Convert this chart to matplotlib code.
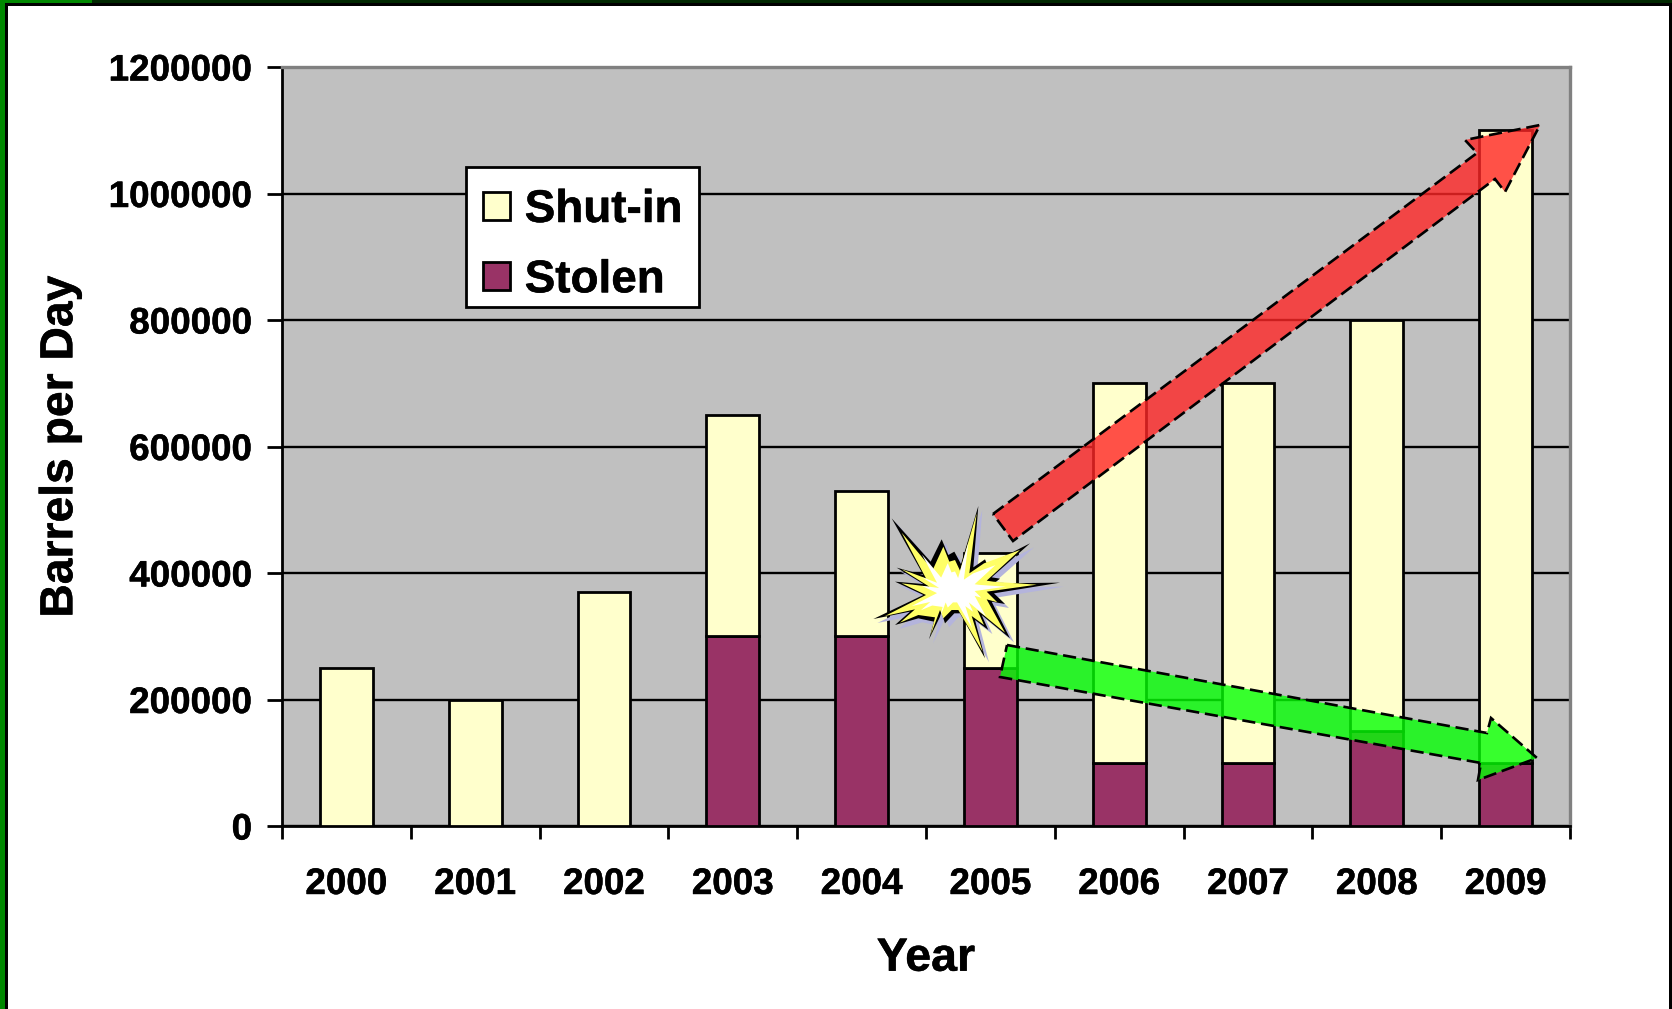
import matplotlib
matplotlib.use('Agg')
import matplotlib.pyplot as plt
import matplotlib.patheffects as pe
from matplotlib.patches import Polygon, Rectangle
from matplotlib.transforms import Affine2D
import numpy as np

W, H = 1672, 1009

years = ['2000', '2001', '2002', '2003', '2004', '2005', '2006', '2007', '2008', '2009']
stolen = [0, 0, 0, 300000, 300000, 250000, 100000, 100000, 150000, 100000]
totals = [250000, 200000, 370000, 650000, 530000, 432000, 700000, 700000, 800000, 1100000]
shut_in = [t - s for t, s in zip(totals, stolen)]
y_ticks = [0, 200000, 400000, 600000, 800000, 1000000, 1200000]

# overlay shapes, traced in image pixels
red_arrow = [(993, 514), (1477, 153), (1465, 140), (1540, 125), (1505, 192), (1495, 179), (1013, 541)]
green_arrow = [(1007, 645), (1487, 733), (1491, 718), (1537, 758), (1478, 780), (1481, 763), (1000, 677)]
burst_outer = [(95, 115), (212, 245), (245, 178), (265, 225), (283, 215), (303, 252), (355, 78),
               (340, 262), (375, 238), (382, 255), (510, 190), (395, 292), (420, 296), (402, 310),
               (600, 308), (402, 340), (435, 372), (395, 365), (450, 475), (365, 405), (385, 450),
               (345, 420), (375, 535), (300, 400), (283, 400), (255, 430), (245, 400), (207, 478),
               (222, 425), (175, 415), (105, 435), (150, 395), (40, 417), (190, 345), (105, 305),
               (190, 312), (110, 263), (190, 285)]
burst_inner = [(125, 158), (218, 270), (250, 200), (268, 245), (285, 240), (300, 272), (350, 100),
               (328, 280), (372, 250), (480, 210), (380, 302), (400, 305), (530, 314), (380, 335),
               (412, 367), (380, 358), (435, 458), (352, 390), (372, 435), (335, 408), (368, 515),
               (295, 390), (275, 390), (250, 415), (240, 390), (212, 465), (225, 412), (175, 405),
               (120, 428), (165, 388), (75, 408), (198, 345), (125, 310), (208, 320), (125, 268),
               (198, 295)]

plt.rcParams['font.family'] = ['Liberation Sans', 'DejaVu Sans']
plt.rcParams['font.weight'] = 'bold'

fig = plt.figure(figsize=(W / 100, H / 100), dpi=100, facecolor='white')
px = Affine2D().scale(1 / W, -1 / H).translate(0, 1) + fig.transFigure
heavy = [pe.withStroke(linewidth=0.35, foreground='black')]


def frame(x, y, w, h, color):
    fig.add_artist(Rectangle((x, y), w, h, transform=px, facecolor=color, edgecolor='none'))


frame(0, 0, W, 3, '#002800')
frame(0, 0, 92, 3, '#008800')
frame(0, 0, 5, H, '#008800')
frame(5, 3, W - 5, 2.5, 'black')
frame(5, 3, 3, H, 'black')
frame(W - 3, 3, 3, H, 'black')

ax = fig.add_axes([282 / W, 1 - 826 / H, (1570 - 282) / W, (826 - 67) / H])
ax.set_facecolor('#C0C0C0')

x = np.arange(len(years))
lw = 2.0
ax.bar(x, stolen, 0.41, color='#993366', edgecolor='black', linewidth=lw, label='Stolen', zorder=3)
ax.bar(x, shut_in, 0.41, bottom=stolen, color='#FFFFCC', edgecolor='black', linewidth=lw,
       label='Shut-in', zorder=3)

ax.set_xlim(-0.5, len(years) - 0.5)
ax.set_ylim(0, 1200000)
ax.set_yticks(y_ticks)
ax.set_yticklabels([str(v) for v in y_ticks])
ax.set_xticks(x)
ax.set_xticklabels(years)
ax.set_xticks(np.arange(-0.5, len(years)), minor=True)
ax.tick_params(axis='x', which='major', length=0, labelsize=26.5, pad=29.5)
ax.tick_params(axis='x', which='minor', length=9, width=lw)
ax.tick_params(axis='y', length=10.5, width=lw, labelsize=26.5, pad=11)
ax.yaxis.grid(True, color='black', linewidth=1.7, zorder=1)
ax.set_axisbelow(True)
for side in ['left', 'bottom']:
    ax.spines[side].set_linewidth(lw)
for side in ['top', 'right']:
    ax.spines[side].set_color('#808080')
    ax.spines[side].set_linewidth(lw + 0.4)

ax.set_xlabel('Year', fontsize=33.5, fontweight='bold', labelpad=25)
ax.set_ylabel('Barrels per Day', fontsize=33.3, fontweight='bold', labelpad=19)

# legend box is drawn apart so the rows can sit where they do in the reference
ax.add_patch(Rectangle((466, 167), 233, 140, transform=px, facecolor='white', edgecolor='black',
                       linewidth=lw, zorder=4, clip_on=False))
handles, labels = ax.get_legend_handles_labels()
leg = ax.legend(handles[::-1], labels[::-1], loc='upper left',
                bbox_to_anchor=((483 - 282) / (1570 - 282), (826 - 188) / (826 - 67)),
                borderaxespad=0, borderpad=0, fontsize=33, frameon=False,
                handlelength=0.58, handleheight=0.58, handletextpad=0.33, labelspacing=0.574)
leg.set_zorder(5)

for t in ax.get_xticklabels() + ax.get_yticklabels() + leg.get_texts() + [ax.xaxis.label, ax.yaxis.label]:
    t.set_path_effects(heavy)

# burst
bx = 860 + np.array([p[0] for p in burst_outer]) / 3
by = 480 + np.array([p[1] for p in burst_outer]) / 3
ix = 860 + np.array([p[0] for p in burst_inner]) / 3
iy = 480 + np.array([p[1] for p in burst_inner]) / 3
cx, cy = 955, 590

fig.add_artist(Polygon(np.column_stack([bx + 4, by + 4]), closed=True, transform=px,
                       facecolor='#B4B4DC', edgecolor='none'))
fig.add_artist(Polygon(np.column_stack([bx, by]), closed=True, transform=px,
                       facecolor='black', edgecolor='none'))
fig.add_artist(Polygon(np.column_stack([ix, iy]), closed=True, transform=px,
                       facecolor='#FFFF66', edgecolor='none'))
fig.add_artist(Polygon(np.column_stack([cx + (ix - cx) * 0.62, cy + (iy - cy) * 0.62]), closed=True,
                       transform=px, facecolor='white', edgecolor='none'))

dash = (0, (5, 2.2))
fig.add_artist(Polygon(red_arrow, closed=True, transform=px, facecolor=(1, 0.15, 0.15, 0.8),
                       edgecolor='black', linewidth=1.9, linestyle=dash))
fig.add_artist(Polygon(green_arrow, closed=True, transform=px, facecolor=(0.02, 1, 0.02, 0.8),
                       edgecolor='black', linewidth=1.9, linestyle=dash))

fig.savefig('out.png', dpi=100)
